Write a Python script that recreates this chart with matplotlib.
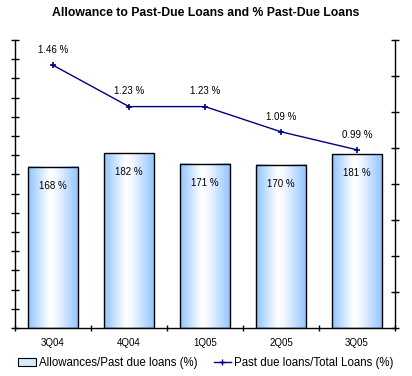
import numpy as np
import matplotlib
matplotlib.use("Agg")
import matplotlib.pyplot as plt
from matplotlib.colors import LinearSegmentedColormap
from matplotlib.patches import Rectangle
from matplotlib.lines import Line2D
from matplotlib.legend_handler import HandlerBase

categories = ["3Q04", "4Q04", "1Q05", "2Q05", "3Q05"]
allowance = [168, 182, 171, 170, 181]
past_due = [1.46, 1.23, 1.23, 1.09, 0.99]
allowance_labels = ["168 %", "182 %", "171 %", "170 %", "181 %"]
past_due_labels = ["1.46 %", "1.23 %", "1.23 %", "1.09 %", "0.99 %"]

plt.rcParams['font.family'] = ['Liberation Sans', 'DejaVu Sans']

fig = plt.figure(figsize=(4.12, 3.76), dpi=100)
ax = fig.add_axes([15/412, 1-328/376, 380/412, 288/376])
ax2 = ax.twinx()

cmap = LinearSegmentedColormap.from_list(
    "bar", [(0.0, "#8fc3ff"), (0.42, "#ffffff"), (0.55, "#f4f9ff"), (1.0, "#8fc3ff")])
grad = np.linspace(0, 1, 256).reshape(1, -1)

x = np.arange(len(categories))
w = 0.66
for xi, v, lab in zip(x, allowance, allowance_labels):
    ax.imshow(grad, cmap=cmap, extent=[xi - w/2, xi + w/2, 0, v],
              aspect='auto', zorder=2, interpolation='bicubic')
    ax.add_patch(Rectangle((xi - w/2, 0), w, v, fill=False, edgecolor='black',
                           linewidth=1.0, zorder=3))
    ax.text(xi, v - 20, lab, ha='center', va='center', fontsize=7, zorder=4)

ax.set_xlim(-0.5, len(categories) - 0.5)
ax.set_ylim(0, 300)
ax.set_yticks(np.arange(0, 301, 20))
ax.set_yticklabels([])
ax.set_xticks(np.arange(-0.5, len(categories), 1.0))
ax.set_xticklabels([])
ax.set_xticks(x, minor=True)
ax.set_xticklabels(categories, minor=True, fontsize=7)
ax.tick_params(axis='x', which='minor', length=0, pad=7)
ax.tick_params(axis='x', which='major', length=5, direction='inout', width=1)
ax.tick_params(axis='y', length=6, direction='inout', width=1)

ax2.plot(x, past_due, color='#000080', linewidth=1.0, marker='+', markersize=4,
         markeredgewidth=1.2, zorder=5)
for xi, v, lab in zip(x, past_due, past_due_labels):
    ax2.text(xi, v + 0.085, lab, ha='center', va='center', fontsize=7)
ax2.set_ylim(0, 1.6)
ax2.set_yticks(np.arange(0, 1.61, 0.2))
ax2.set_yticklabels([])
ax2.tick_params(axis='y', length=6, direction='inout', width=1)

for a in (ax, ax2):
    a.spines['top'].set_visible(False)
    for s in ('left', 'right', 'bottom'):
        a.spines[s].set_linewidth(1.0)
ax.spines['right'].set_visible(False)
ax2.spines['left'].set_visible(False)
ax2.spines['bottom'].set_visible(False)
ax2.patch.set_visible(False)

fig.text(0.5, 1 - 13/376, "Allowance to Past-Due Loans and % Past-Due Loans",
         ha='center', va='center', fontsize=8.8, fontweight='bold')


class GradHandler(HandlerBase):
    def create_artists(self, legend, orig_handle, xdescent, ydescent, width, height, fontsize, trans):
        r = Rectangle((xdescent, ydescent), width, height, facecolor='#d6e9ff',
                      edgecolor='black', linewidth=0.8, transform=trans)
        return [r]

bar_handle = Rectangle((0, 0), 1, 1)
line_handle = Line2D([0], [0], color='#000080', marker='+', markersize=4, linewidth=1.0)
fig.legend([bar_handle, line_handle],
           ["Allowances/Past due loans (%)", "Past due loans/Total Loans (%)"],
           handler_map={Rectangle: GradHandler()},
           loc='center', bbox_to_anchor=(0.5, 1 - 363/376), ncol=2, frameon=False,
           fontsize=8.3, handlelength=1.5, handletextpad=0.3, columnspacing=1.4)

fig.savefig("out.png", dpi=100)
